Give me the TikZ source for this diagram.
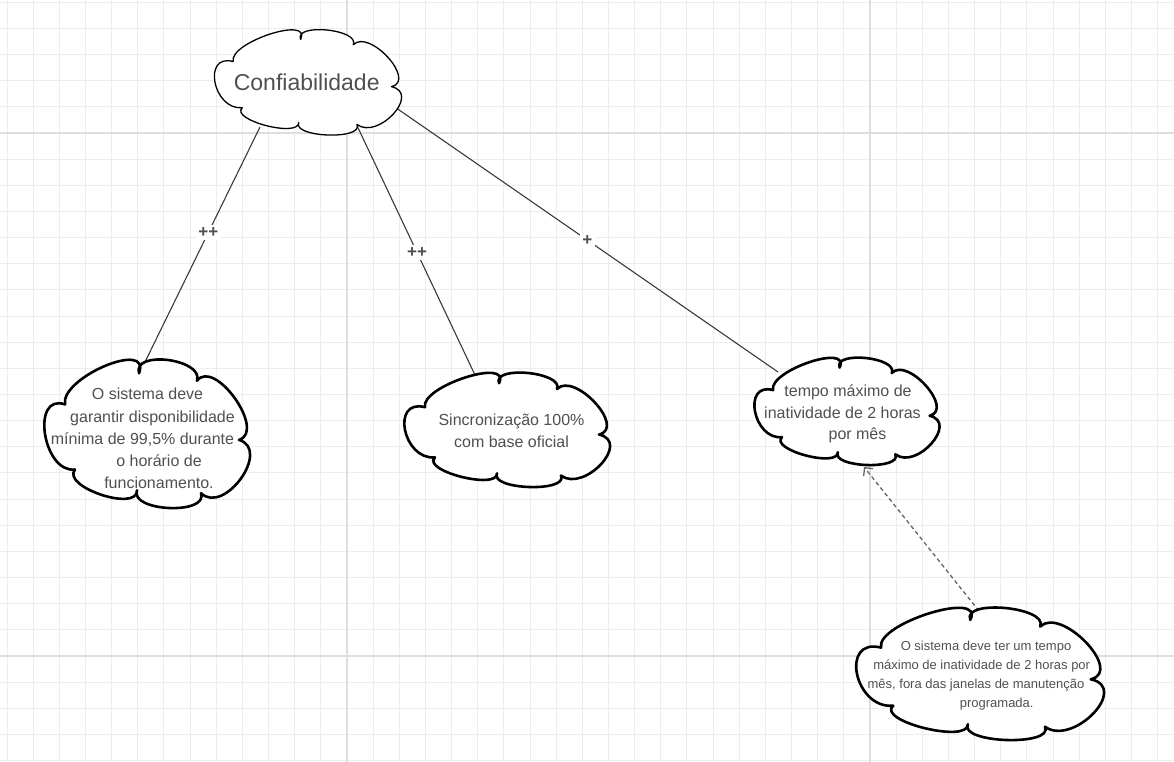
\documentclass[tikz,border=0pt]{standalone}
\usepackage{fontspec}
\setmainfont{Liberation Sans}
\usetikzlibrary{arrows.meta}
\definecolor{gridminor}{HTML}{EDEDED}
\definecolor{gridmajor}{HTML}{DEDEDE}
\definecolor{txt}{HTML}{505050}
\definecolor{edgecol}{HTML}{3A3A3A}
\definecolor{dashcol}{HTML}{666666}
% #1 style, #2 left, #3 top, #4 width, #5 height (visual box of the cloud)
\newcommand\mycloud[5]{%
  \begin{scope}[shift={(#2,#3)},x=#4pt,y=-#5pt]
    \draw[#1] (0.10,0.30)
      .. controls (0.0756,0.1185) and (0.5344,-0.1419) .. (0.47,0.09)
      .. controls (0.4352,-0.0693) and (0.7948,-0.0073) .. (0.76,0.14)
      .. controls (0.8481,-0.0147) and (1.1085,0.4813) .. (0.97,0.54)
      .. controls (1.1328,0.6035) and (0.8972,1.0499) .. (0.78,0.90)
      .. controls (0.8184,1.0491) and (0.4216,1.0243) .. (0.46,0.88)
      .. controls (0.4639,1.0301) and (0.0795,0.8565) .. (0.15,0.74)
      .. controls (-0.0107,0.7661) and (-0.0727,0.2205) .. (0.10,0.30) -- cycle;
  \end{scope}}
\begin{document}
\begin{tikzpicture}[x=1pt,y=-1pt,
  gridline/.style={draw=gridminor,line width=1pt},
  gridbold/.style={draw=gridmajor,line width=1.5pt},
  thincloud/.style={draw=black,fill=white,line width=1.3pt,line join=round},
  thickcloud/.style={draw=black,fill=white,line width=2.6pt,line join=round},
  cloudtext/.style={text=txt,align=center,anchor=base,inner sep=0pt},
  edgeline/.style={draw=edgecol,line width=1.1pt},
  dashline/.style={draw=dashcol,line width=1.3pt,dash pattern=on 4pt off 3pt,
    -{Straight Barb[length=6pt,width=12pt,line width=1.3pt]}},
  lbl/.style={fill=white,text=txt,inner sep=2.5pt,font=\bfseries\fontsize{17}{17}\selectfont}]
\useasboundingbox (0,0) rectangle (1174,762);
\fill[white] (0,0) rectangle (1174,762);
% grid
\foreach \i in {0,...,44} \draw[gridline] ({7.05+26.15*\i},0) -- ({7.05+26.15*\i},762);
\foreach \j in {0,...,29} \draw[gridline] (0,{2.25+26.15*\j}) -- (1174,{2.25+26.15*\j});
\foreach \i in {13,33} \draw[gridbold] ({7.05+26.15*\i},0) -- ({7.05+26.15*\i},762);
\foreach \j in {5,25} \draw[gridbold] (0,{2.25+26.15*\j}) -- (1174,{2.25+26.15*\j});
% connector end points
\coordinate (e1a) at (260,127);
\coordinate (e1b) at (145,362);
\coordinate (e2a) at (356.7,125);
\coordinate (e2b) at (475,375);
\coordinate (e3a) at (396.7,108.3);
\coordinate (e3b) at (778,372);
\coordinate (e4a) at (979,611);
\coordinate (e4b) at (864,467);
% connectors
\draw[edgeline] (e1a) -- node[lbl,pos=0.45] (l1) {++} (e1b);
\draw[edgeline] (e2a) -- node[lbl,pos=0.51] (l2) {++} (e2b);
\draw[edgeline] (e3a) -- node[lbl,pos=0.5] (l3) {+} (e3b);
\draw[dashline] (e4a) -- (e4b);
% clouds
\mycloud{thincloud}{215}{30}{182}{105}
\mycloud{thickcloud}{45}{360}{200}{148}
\mycloud{thickcloud}{405}{373}{200}{114}
\mycloud{thickcloud}{755}{358}{180}{107}
\mycloud{thickcloud}{857}{608}{241}{132}
% texts
\node[cloudtext,font=\fontsize{23}{27}\selectfont] (conf) at (306.7,90.7) {Confiabilidade};
\node[cloudtext,font=\fontsize{16}{22.2}\selectfont] (req1) at (150,488.7)
  {\hspace*{-5pt}O sistema deve\\\hspace*{5pt}garantir disponibilidade\\\hspace*{-15pt}mínima de 99,5\% durante\\\hspace*{18pt}o horário de\\\hspace*{18pt}funcionamento.};
\node[cloudtext,font=\fontsize{16}{21.8}\selectfont] (req2) at (511.5,447.4)
  {Sincronização 100\%\\com base oficial};
\node[cloudtext,font=\fontsize{16}{21.3}\selectfont] (req3) at (848,439.3)
  {tempo máximo de\\\hspace*{-11pt}inatividade de 2 horas\\\hspace*{19pt}por mês};
\node[cloudtext,font=\fontsize{13}{19}\selectfont] (req4) at (985,707)
  {\hspace*{2pt}O sistema deve ter um tempo\\\hspace*{-6.6pt}máximo de inatividade de 2 horas por\\\hspace*{-18pt}mês, fora das janelas de manutenção\\\hspace*{23.4pt}programada.};
\end{tikzpicture}
\end{document}
